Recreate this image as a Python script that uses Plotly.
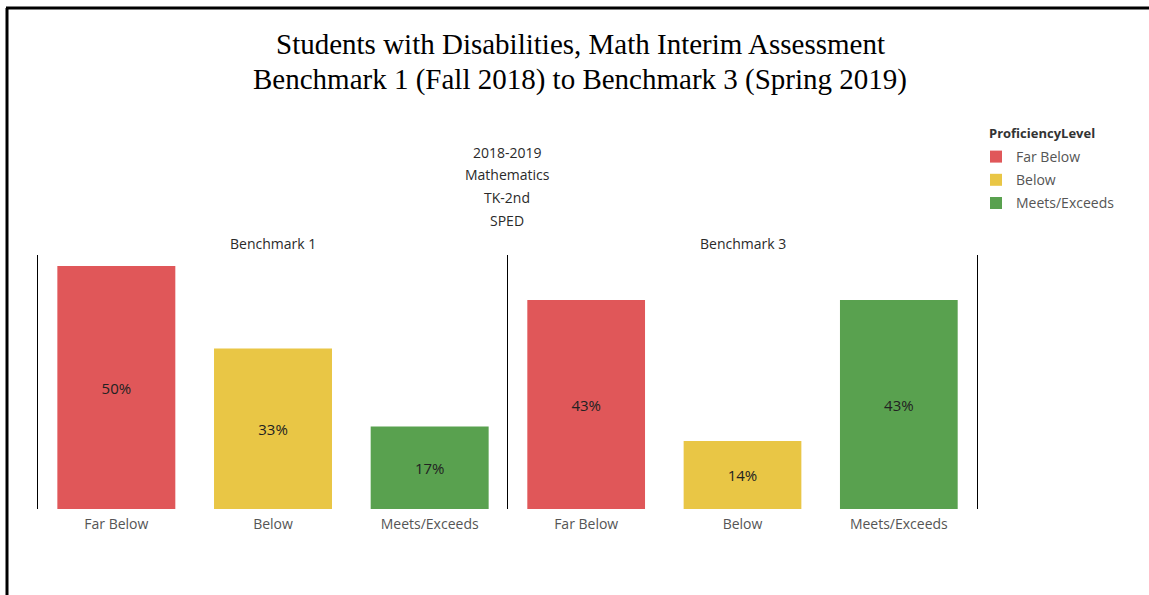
import plotly.graph_objects as go

W, H = 1149, 595

levels = ["Far Below", "Below", "Meets/Exceeds"]
level_colors = ["#E05759", "#E9C645", "#59A14F"]
benchmarks = ["Benchmark 1", "Benchmark 3"]
pct_benchmark1 = [50, 33, 17]
pct_benchmark3 = [43, 14, 43]
header_lines = ["2018-2019", "Mathematics", "TK-2nd", "SPED"]
title_lines = [
    "Students with Disabilities, Math Interim Assessment",
    "Benchmark 1 (Fall 2018) to Benchmark 3 (Spring 2019)",
]
legend_title = "ProficiencyLevel"

SANS = "Open Sans"
SERIF = "Liberation Serif"


def px_x(v):
    return v / W


def px_y(v):
    return 1 - v / H


fig = go.Figure()

for panel, values in enumerate([pct_benchmark1, pct_benchmark3]):
    xa = "x" if panel == 0 else "x2"
    ya = "y" if panel == 0 else "y2"
    for lvl, val, col in zip(levels, values, level_colors):
        fig.add_trace(go.Bar(
            x=[lvl], y=[val], name=lvl,
            marker=dict(color=col, line=dict(width=0)),
            text=[f"{val}%"], textposition="inside", insidetextanchor="middle",
            textfont=dict(family=SANS, size=15, color="#222222"),
            textangle=0,
            xaxis=xa, yaxis=ya,
            legendgroup=lvl, showlegend=(panel == 0),
            hoverinfo="skip",
        ))

y_top = 254 / 4.86
axis_common = dict(
    type="category", categoryorder="array", categoryarray=levels,
    showgrid=False, zeroline=False, showline=False, ticks="outside",
    ticklen=2, tickcolor="rgba(0,0,0,0)",
    tickfont=dict(family=SANS, size=14, color="#555555"),
)
yaxis_common = dict(
    range=[0, y_top], showgrid=False, zeroline=False, showticklabels=False,
    ticks="", showline=True, linecolor="#000000", linewidth=1,
    domain=[px_y(509), px_y(255)],
)

fig.update_layout(
    width=W, height=H,
    margin=dict(l=0, r=0, t=0, b=0),
    paper_bgcolor="white", plot_bgcolor="white",
    barmode="overlay", bargap=0.247,
    xaxis=dict(domain=[px_x(38), px_x(508)], anchor="y", **axis_common),
    xaxis2=dict(domain=[px_x(508), px_x(977)], anchor="y2", **axis_common),
    yaxis=dict(anchor="x", **yaxis_common),
    yaxis2=dict(anchor="x2", mirror=True, **yaxis_common),
    legend=dict(
        x=px_x(976), y=px_y(141), xanchor="left", yanchor="top",
        font=dict(family=SANS, size=14, color="#555555"),
        tracegroupgap=2, itemwidth=30, bgcolor="rgba(0,0,0,0)",
    ),
    font=dict(family=SANS),
)

annotations = []
for i, line in enumerate(title_lines):
    annotations.append(dict(
        text=line, x=px_x(580), y=px_y(44 + 36 * i), xref="paper", yref="paper",
        xanchor="center", yanchor="middle", showarrow=False,
        font=dict(family=SERIF, size=29, color="#000000"),
    ))
for i, line in enumerate(header_lines):
    annotations.append(dict(
        text=line, x=px_x(507), y=px_y(152 + 22.7 * i), xref="paper", yref="paper",
        xanchor="center", yanchor="middle", showarrow=False,
        font=dict(family=SANS, size=14, color="#2a2a2a"),
    ))
for bm, xa in zip(benchmarks, ["x domain", "x2 domain"]):
    annotations.append(dict(
        text=bm, x=0.5, y=px_y(243), xref=xa, yref="paper",
        xanchor="center", yanchor="middle", showarrow=False,
        font=dict(family=SANS, size=14, color="#2a2a2a"),
    ))
annotations.append(dict(
    text=f"<b>{legend_title}</b>", x=px_x(987), y=px_y(133), xref="paper", yref="paper",
    xanchor="left", yanchor="middle", showarrow=False,
    font=dict(family=SANS, size=13, color="#333333"),
))
fig.update_layout(annotations=annotations)

# outer frame: left and top edges
fig.add_shape(type="line", xref="paper", yref="paper",
              x0=px_x(7), x1=px_x(7), y0=0, y1=px_y(8),
              line=dict(color="#000000", width=3))
fig.add_shape(type="line", xref="paper", yref="paper",
              x0=px_x(6), x1=1, y0=px_y(8), y1=px_y(8),
              line=dict(color="#000000", width=3))

fig.write_html("out.html")
